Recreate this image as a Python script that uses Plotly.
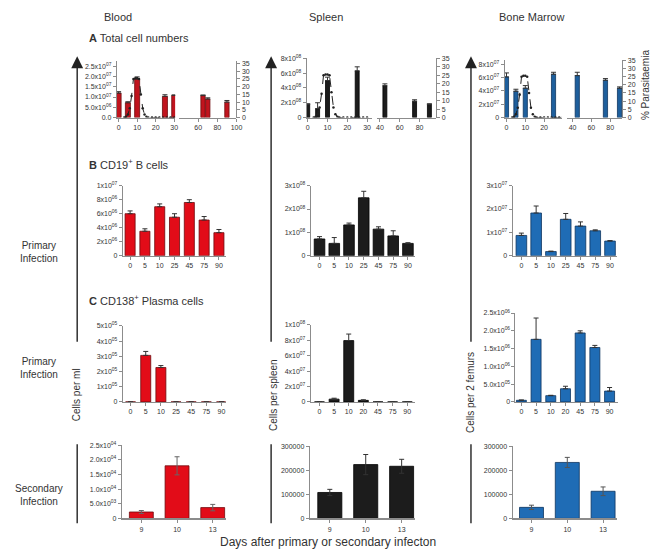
import plotly.graph_objects as go

W, H = 661, 554
def fx(p): return p / W
def fy(p): return 1 - p / H

RED = '#e20c18'; RED_D = '#c0141e'; RED_EDGE = '#6e0a0e'
BLK = '#1c1c1c'; BLK_EDGE = '#000000'
BLUE = '#1f6cb5'; BLUE_D = '#1e5f9c'; BLUE_EDGE = '#0e3560'
AX = '#8c8c8c'
TXT = '#333333'

# ---------------- data ----------------
# A: total cell numbers (early / late segment)
a_blood_days_early = [0, 5, 10, 25, 30]
a_blood_vals_early = [1.19e7, 0.72e7, 1.88e7, 1.03e7, 1.08e7]
a_blood_err_early = [0.07e7, 0.05e7, 0.1e7, 0.08e7, 0.02e7]
a_blood_days_late = [65, 70, 90]
a_blood_vals_late = [1.07e7, 0.9e7, 0.75e7]
a_blood_err_late = [0.03e7, 0.06e7, 0.08e7]

a_spleen_days_early = [0, 5, 10, 25]
a_spleen_vals_early = [1.8e8, 1.2e8, 5.0e8, 6.3e8]
a_spleen_err_early = [0.05e8, 0.8e8, 0.45e8, 0.55e8]
a_spleen_days_late = [45, 75, 90]
a_spleen_vals_late = [4.3e8, 2.2e8, 1.8e8]
a_spleen_err_late = [0.25e8, 0.2e8, 0.05e8]

a_bm_days_early = [0, 5, 10, 25]
a_bm_vals_early = [6.1e7, 3.95e7, 4.4e7, 6.5e7]
a_bm_err_early = [0.6e7, 0.3e7, 0.4e7, 0.3e7]
a_bm_days_late = [45, 75, 90]
a_bm_vals_late = [6.3e7, 5.6e7, 4.4e7]
a_bm_err_late = [0.5e7, 0.25e7, 0.2e7]

para_days = [3, 4, 5, 6, 7, 8, 9, 10, 11, 12, 13, 14, 15, 16, 18, 20, 22, 24, 26, 28, 30]
para_vals = [0, 0.5, 2, 6, 14, 25, 25.5, 25.5, 25, 15, 6, 2, 0.5, 0, 0, 0, 0, 0, 0, 0, 0]

# B: CD19+ B cells
b_days = ['0', '5', '10', '25', '45', '75', '90']
b_blood = [6.0e6, 3.5e6, 7.0e6, 5.5e6, 7.6e6, 5.1e6, 3.3e6]
b_blood_err = [0.4e6, 0.35e6, 0.4e6, 0.5e6, 0.4e6, 0.5e6, 0.45e6]
b_spleen = [0.72e8, 0.53e8, 1.32e8, 2.48e8, 1.14e8, 0.85e8, 0.53e8]
b_spleen_err = [0.1e8, 0.25e8, 0.08e8, 0.28e8, 0.1e8, 0.22e8, 0.03e8]
b_bm = [0.87e7, 1.83e7, 0.18e7, 1.56e7, 1.27e7, 1.07e7, 0.63e7]
b_bm_err = [0.1e7, 0.3e7, 0.02e7, 0.25e7, 0.18e7, 0.04e7, 0.02e7]

# C: CD138+ plasma cells
c_days_blood = ['0', '5', '10', '25', '45', '75', '90']
c_blood = [0, 3.06e5, 2.26e5, 0, 0, 0, 0]
c_blood_err = [0, 0.26e5, 0.13e5, 0, 0, 0, 0]
c_days = ['0', '5', '10', '20', '45', '75', '90']
c_spleen = [0, 3.6e6, 7.96e7, 2.0e6, 0, 0, 0]
c_spleen_err = [0, 1.2e6, 0.85e7, 0.8e6, 0, 0, 0]
c_bm = [0.45e5, 1.76e6, 1.76e5, 3.7e5, 1.94e6, 1.53e6, 3.05e5]
c_bm_err = [0.1e5, 0.6e6, 0.1e5, 0.7e5, 0.06e6, 0.06e6, 1.0e5]

# Secondary infection
s_days = ['9', '10', '13']
s_blood = [2.2e3, 1.8e4, 3.7e3]
s_blood_err = [0.5e3, 3.1e3, 1.1e3]
s_spleen = [1.08e5, 2.24e5, 2.17e5]
s_spleen_err = [0.13e5, 0.42e5, 0.29e5]
s_bm = [4.6e4, 2.33e5, 1.13e5]
s_bm_err = [0.9e4, 2.1e4, 1.8e4]

# ---------------- figure ----------------
fig = go.Figure()
layout = dict(width=W, height=H, margin=dict(l=0, r=0, t=0, b=0),
              plot_bgcolor='white', paper_bgcolor='white', showlegend=False,
              font=dict(family='Liberation Sans, Arial, sans-serif', color=TXT),
              bargap=0.3)
ann = []
shapes = []
cnt = [0]
BASE = dict(showline=True, linecolor=AX, linewidth=1, ticks='outside', ticklen=3,
            tickcolor=AX, tickwidth=1, showgrid=False, zeroline=False,
            tickfont=dict(size=7, color=TXT), fixedrange=True)


def sup(m, e):
    return f'{m}x10<sup>{e}</sup>'


def add_xy(x0, x1, yt, yb, xrange, yrange, xkw=None, ykw=None):
    cnt[0] += 1
    s = '' if cnt[0] == 1 else str(cnt[0])
    layout['xaxis' + s] = dict(BASE, domain=[fx(x0), fx(x1)], anchor='y' + s, range=xrange, **(xkw or {}))
    layout['yaxis' + s] = dict(BASE, domain=[fy(yb), fy(yt)], anchor='x' + s, range=yrange, **(ykw or {}))
    return 'x' + s, 'y' + s


def add_x(x0, x1, yname, xrange, xkw=None):
    cnt[0] += 1
    s = str(cnt[0])
    layout['xaxis' + s] = dict(BASE, domain=[fx(x0), fx(x1)], anchor=yname, range=xrange, **(xkw or {}))
    return 'x' + s


def add_right(yname, xpos, yrange, ykw=None):
    cnt[0] += 1
    s = str(cnt[0])
    layout['yaxis' + s] = dict(BASE, overlaying=yname, side='right', anchor='free',
                               position=fx(xpos), range=yrange, **(ykw or {}))
    return 'y' + s


def bars(xa, ya, x, y, err, color, edge, width=None, sym=False, errcol='#333'):
    e = dict(type='data', array=err, visible=True, color=errcol, thickness=1, width=2.5)
    if not sym:
        e['symmetric'] = False
        e['arrayminus'] = [0] * len(err)
    fig.add_trace(go.Bar(x=x, y=y, xaxis=xa, yaxis=ya, width=width,
                         marker=dict(color=color, line=dict(color=edge, width=0.8)),
                         error_y=e, hoverinfo='skip'))


def para(xa, ya):
    fig.add_trace(go.Scatter(x=para_days, y=para_vals, xaxis=xa, yaxis=ya, mode='lines+markers',
                             line=dict(color='#222', width=1, dash='dash'),
                             marker=dict(size=2.5, color='#222'), hoverinfo='skip'))


par_ticks = dict(tickvals=[0, 5, 10, 15, 20, 25, 30, 35], ticktext=[str(v) for v in range(0, 40, 5)])
early_ticks = dict(tickvals=[0, 10, 20, 30], ticktext=['0', '10', '20', '30'])
late_ticks = dict(tickvals=[40, 60, 80], ticktext=['40', '60', '80'])

# ---- Row A ----
# Blood
xa, ya = add_xy(117, 176, 58, 115, [-1, 30.5], [0, 2.74e7], xkw=early_ticks,
                ykw=dict(tickvals=[0, 0.5e7, 1e7, 1.5e7, 2e7, 2.5e7],
                         ticktext=['0.0', sup('5.0', '06'), sup('1.0', '07'), sup('1.5', '07'), sup('2.0', '07'), sup('2.5', '07')]))
xb = add_x(180, 238, ya, [40, 100], dict(tickvals=[60, 80, 100], ticktext=['60', '80', '100']))
yr = add_right(ya, 238, [0, 36.5], par_ticks)
bars(xa, ya, a_blood_days_early, a_blood_vals_early, a_blood_err_early, RED_D, RED_EDGE, width=2.7)
bars(xb, ya, a_blood_days_late, a_blood_vals_late, a_blood_err_late, RED_D, RED_EDGE, width=4.5)
para(xa, yr)

# Spleen
xa, ya = add_xy(309, 375, 55, 115, [-0.5, 32.5], [0, 8e8], xkw=early_ticks,
                ykw=dict(tickvals=[0, 2e8, 4e8, 6e8, 8e8],
                         ticktext=['0', sup('2', '08'), sup('4', '08'), sup('6', '08'), sup('8', '08')]))
xb = add_x(380, 440, ya, [37, 97], late_ticks)
yr = add_right(ya, 440, [0, 35], par_ticks)
bars(xa, ya, a_spleen_days_early, a_spleen_vals_early, a_spleen_err_early, BLK, BLK_EDGE, width=2.0)
bars(xb, ya, a_spleen_days_late, a_spleen_vals_late, a_spleen_err_late, BLK, BLK_EDGE, width=4.0)
para(xa, yr)

# Bone marrow
xa, ya = add_xy(509, 567, 57, 115, [-1, 29.5], [0, 8.6e7], xkw=early_ticks,
                ykw=dict(tickvals=[0, 2e7, 4e7, 6e7, 8e7],
                         ticktext=['0', sup('2', '07'), sup('4', '07'), sup('6', '07'), sup('8', '07')]))
xb = add_x(572, 628, ya, [34, 93], late_ticks)
yr = add_right(ya, 628, [0, 35], par_ticks)
bars(xa, ya, a_bm_days_early, a_bm_vals_early, a_bm_err_early, BLUE_D, BLUE_EDGE, width=2.2)
bars(xb, ya, a_bm_days_late, a_bm_vals_late, a_bm_err_late, BLUE_D, BLUE_EDGE, width=4.5)
para(xa, yr)

# ---- Row B ----
cat = dict(type='category')
xa, ya = add_xy(123, 227, 184, 255, [-0.5, 6.45], [0, 1e7], xkw=cat,
                ykw=dict(tickvals=[0, 2e6, 4e6, 6e6, 8e6, 1e7],
                         ticktext=['0', sup('2', '06'), sup('4', '06'), sup('6', '06'), sup('8', '06'), sup('1', '07')]))
bars(xa, ya, b_days, b_blood, b_blood_err, RED, RED_EDGE, width=0.68)
xa, ya = add_xy(313, 418, 184, 255, [-0.6, 6.45], [0, 3e8], xkw=cat,
                ykw=dict(tickvals=[0, 1e8, 2e8, 3e8], ticktext=['0', sup('1', '08'), sup('2', '08'), sup('3', '08')]))
bars(xa, ya, b_days, b_spleen, b_spleen_err, BLK, BLK_EDGE, width=0.72)
xa, ya = add_xy(517, 623, 184, 255, [-0.6, 6.5], [0, 3e7], xkw=cat,
                ykw=dict(tickvals=[0, 1e7, 2e7, 3e7], ticktext=['0', sup('1', '07'), sup('2', '07'), sup('3', '07')]))
bars(xa, ya, b_days, b_bm, b_bm_err, BLUE, BLUE_EDGE, width=0.72)

# ---- Row C ----
xa, ya = add_xy(123, 227, 326, 403, [-0.52, 6.27], [0, 5e5], xkw=cat,
                ykw=dict(tickvals=[0, 1e5, 2e5, 3e5, 4e5, 5e5],
                         ticktext=['0', sup('1', '05'), sup('2', '05'), sup('3', '05'), sup('4', '05'), sup('5', '05')]))
bars(xa, ya, c_days_blood, c_blood, c_blood_err, RED, RED_EDGE, width=0.66)
xa, ya = add_xy(313, 418, 325, 403, [-0.6, 6.5], [0, 1e8], xkw=cat,
                ykw=dict(tickvals=[0, 2e7, 4e7, 6e7, 8e7, 1e8],
                         ticktext=['0', sup('2', '07'), sup('4', '07'), sup('6', '07'), sup('8', '07'), sup('1', '08')]))
bars(xa, ya, c_days, c_spleen, c_spleen_err, BLK, BLK_EDGE, width=0.68)
xa, ya = add_xy(520, 624, 313, 403, [-0.4, 6.6], [0, 2.5e6], xkw=cat,
                ykw=dict(tickvals=[0, 5e5, 1e6, 1.5e6, 2e6, 2.5e6],
                         ticktext=['0', sup('5.0', '05'), sup('1.0', '06'), sup('1.5', '06'), sup('2.0', '06'), sup('2.5', '06')]))
bars(xa, ya, c_days, c_bm, c_bm_err, BLUE, BLUE_EDGE, width=0.68)

# ---- Secondary row ----
sec_x = dict(type='category', linewidth=1.5)
xa, ya = add_xy(122, 227, 447, 521, [-0.55, 2.36], [0, 2.5e4], xkw=sec_x,
                ykw=dict(tickvals=[0, 5e3, 1e4, 1.5e4, 2e4, 2.5e4],
                         ticktext=['0', sup('5.0', '03'), sup('1.0', '04'), sup('1.5', '04'), sup('2.0', '04'), sup('2.5', '04')]))
bars(xa, ya, s_days, s_blood, s_blood_err, RED, RED_EDGE, width=0.67, sym=True, errcol='#666')
xa, ya = add_xy(312, 418, 448, 521, [-0.56, 2.36], [0, 3e5], xkw=sec_x,
                ykw=dict(tickvals=[0, 1e5, 2e5, 3e5], ticktext=['0', '100000', '200000', '300000']))
bars(xa, ya, s_days, s_spleen, s_spleen_err, BLK, BLK_EDGE, width=0.67, sym=True, errcol='#333')
xa, ya = add_xy(517, 623, 448, 521, [-0.53, 2.4], [0, 3e5], xkw=sec_x,
                ykw=dict(tickvals=[0, 1e5, 2e5, 3e5], ticktext=['0', '100000', '200000', '300000']))
bars(xa, ya, s_days, s_bm, s_bm_err, BLUE, BLUE_EDGE, width=0.67, sym=True, errcol='#555')

# ---- arrows and lines ----
for x in (77, 273, 475):
    ann.append(dict(x=fx(x), y=fy(53), xref='paper', yref='paper', ax=0, ay=287,
                    axref='pixel', ayref='pixel', showarrow=True, arrowhead=2, arrowsize=1.7,
                    arrowwidth=1.4, arrowcolor='#222', text=''))
    shapes.append(dict(type='line', xref='paper', yref='paper', x0=fx(x), x1=fx(x),
                       y0=fy(446), y1=fy(526), line=dict(color='#222', width=1.4)))


def text(x, y, t, size=11, xanchor='center', angle=0, color=TXT):
    ann.append(dict(x=fx(x), y=fy(y), xref='paper', yref='paper', text=t, showarrow=False,
                    xanchor=xanchor, yanchor='middle', textangle=angle, font=dict(size=size, color=color)))


text(118, 13, 'Blood', 11)
text(328, 13, 'Spleen', 11)
text(536, 13, 'Bone Marrow', 11)
text(87, 34, '<b>A</b> Total cell numbers', 11, 'left')
text(87, 162, '<b>B</b> CD19<sup>+</sup> B cells', 11, 'left')
text(87, 300, '<b>C</b> CD138<sup>+</sup> Plasma cells', 11, 'left')
text(38, 251, 'Primary<br>Infection', 10)
text(38, 369, 'Primary<br>Infection', 10)
text(38, 497, 'Secondary<br>Infection', 10)
text(77, 396, 'Cells per ml', 10, angle=-90)
text(276, 396, 'Cells per spleen', 10, angle=-90)
text(474, 393, 'Cells per 2 femurs', 10, angle=-90)
text(652, 82, '% Parasitaemia', 10, angle=-90)
text(330, 545, 'Days after primary or secondary infecton', 12)

layout['annotations'] = ann
layout['shapes'] = shapes
fig.update_layout(**layout)
fig.write_html('out.html', config={'displayModeBar': False},
               post_script="document.body.style.margin='0';document.body.style.padding='0';document.body.style.overflow='hidden';")
